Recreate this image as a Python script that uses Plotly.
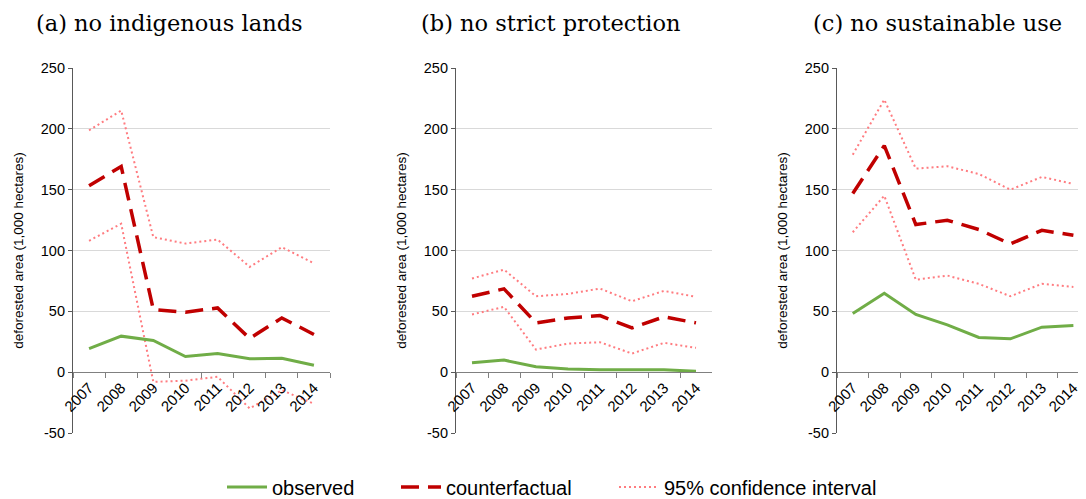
import plotly.graph_objects as go

years = ["2007", "2008", "2009", "2010", "2011", "2012", "2013", "2014"]
panel_titles = ["(a) no indigenous lands", "(b) no strict protection", "(c) no sustainable use"]
y_tick_vals = [-50, 0, 50, 100, 150, 200, 250]
y_tick_text = ["-50", "0", "50", "100", "150", "200", "250"]
y_title = "deforested area (1,000 hectares)"
legend_names = ["observed", "counterfactual", "95% confidence interval"]

# (a) no indigenous lands
obs_a = [19.4, 29.6, 26.0, 12.9, 15.3, 11.0, 11.5, 5.7]
cf_a = [153.3, 169.0, 51.5, 49.3, 52.8, 27.7, 44.6, 31.0]
up_a = [198.8, 215.0, 111.0, 105.7, 109.0, 86.5, 102.7, 89.5]
lo_a = [108.0, 122.0, -8.0, -7.0, -3.8, -29.8, -14.8, -26.0]

# (b) no strict protection
obs_b = [7.7, 9.9, 4.4, 2.7, 1.9, 2.2, 1.9, 0.8]
cf_b = [62.4, 68.5, 40.5, 44.6, 46.5, 36.4, 45.5, 40.5]
up_b = [77.0, 84.3, 62.4, 64.3, 68.7, 58.3, 66.8, 61.9]
lo_b = [47.4, 53.7, 18.6, 23.5, 24.6, 15.3, 24.1, 20.0]

# (c) no sustainable use
obs_c = [48.2, 64.9, 47.4, 38.9, 28.5, 27.4, 37.0, 38.3]
cf_c = [146.8, 186.2, 121.3, 124.9, 117.2, 105.4, 116.6, 112.5]
up_c = [178.8, 224.0, 167.3, 169.2, 162.9, 150.0, 160.5, 154.7]
lo_c = [115.0, 145.0, 76.0, 79.4, 72.6, 62.4, 72.6, 70.0]

panels = [(obs_a, cf_a, up_a, lo_a), (obs_b, cf_b, up_b, lo_b), (obs_c, cf_c, up_c, lo_c)]

OFF = 8  # page body margin
W, H = 1086 - OFF, 499 - OFF
GREEN = "#70AD47"
RED = "#C00000"
PINK = "#FF7C80"


def px_x(px):
    return (px - OFF) / W


def px_y(py):
    return 1 - (py - OFF) / H


x_px = [(73, 330), (456, 712), (837, 1086)]
x_ranges = [[-0.5, 7.5], [-0.5, 7.5], [-0.5, 7.4]]
y_top_px, y_bot_px = 68, 433
ydom = [px_y(y_bot_px), px_y(y_top_px)]
zero_pos = ydom[0] + (ydom[1] - ydom[0]) * (50 / 300)

leg_ids = ["legend", "legend2", "legend3"]
leg_x_px = [222, 396, 614]

fig = go.Figure()
for i, (obs, cf, up, lo) in enumerate(panels):
    xa = "x" if i == 0 else f"x{i+1}"
    ya = "y" if i == 0 else f"y{i+1}"
    show = i == 0
    fig.add_trace(go.Scatter(x=years, y=up, mode="lines", xaxis=xa, yaxis=ya,
                             line=dict(color=PINK, width=2, dash="2px,3px"),
                             name=legend_names[2], showlegend=False, legend=leg_ids[2]))
    fig.add_trace(go.Scatter(x=years, y=lo, mode="lines", xaxis=xa, yaxis=ya,
                             line=dict(color=PINK, width=2, dash="2px,3px"),
                             name=legend_names[2], showlegend=show, legend=leg_ids[2]))
    fig.add_trace(go.Scatter(x=years, y=cf, mode="lines", xaxis=xa, yaxis=ya,
                             line=dict(color=RED, width=3.5, dash="18px,9px"),
                             name=legend_names[1], showlegend=show, legend=leg_ids[1]))
    fig.add_trace(go.Scatter(x=years, y=obs, mode="lines", xaxis=xa, yaxis=ya,
                             line=dict(color=GREEN, width=3),
                             name=legend_names[0], showlegend=show, legend=leg_ids[0]))

layout = dict(
    width=W, height=H,
    margin=dict(l=0, r=0, t=0, b=0, autoexpand=False),
    paper_bgcolor="white", plot_bgcolor="white",
    font=dict(family="Liberation Sans, Arial", color="black"),
    annotations=[],
)
for k, lid in enumerate(leg_ids):
    layout[lid] = dict(orientation="h", x=px_x(leg_x_px[k]), xanchor="left",
                       y=px_y(487), yanchor="middle",
                       font=dict(size=20, family="Liberation Sans, Arial"),
                       itemwidth=40, bgcolor="rgba(0,0,0,0)")

title_x = [169, 551, 937]
for i in range(3):
    xk = "xaxis" if i == 0 else f"xaxis{i+1}"
    yk = "yaxis" if i == 0 else f"yaxis{i+1}"
    xref = "x" if i == 0 else f"x{i+1}"
    layout[xk] = dict(
        domain=[px_x(x_px[i][0]), px_x(x_px[i][1])], anchor="free", position=zero_pos,
        type="category", categoryarray=years, range=x_ranges[i],
        tickson="boundaries", ticks="outside", ticklen=5, tickcolor="#808080",
        showline=True, linecolor="#808080", linewidth=1.2, showgrid=False,
        tickangle=-45, tickfont=dict(size=15, color="black"), zeroline=False,
        automargin=False,
    )
    layout[yk] = dict(
        domain=ydom, anchor=xref, range=[-50, 250],
        tickvals=y_tick_vals, ticktext=y_tick_text,
        ticks="outside", ticklen=4, tickcolor="#595959",
        showline=True, linecolor="#595959", linewidth=1.2,
        showgrid=True, gridcolor="#D9D9D9", gridwidth=1, zeroline=False,
        tickfont=dict(size=14.5, color="black"), automargin=False,
        title=dict(text=y_title, font=dict(size=13.5, color="black"), standoff=14),
    )
    layout["annotations"].append(dict(
        text=panel_titles[i], x=px_x(title_x[i]), y=px_y(23), xref="paper", yref="paper",
        xanchor="center", yanchor="middle", showarrow=False,
        font=dict(family="DejaVu Serif, Liberation Serif, serif", size=22.5, color="black"),
    ))

fig.update_layout(**layout)
fig.write_html("out.html")
